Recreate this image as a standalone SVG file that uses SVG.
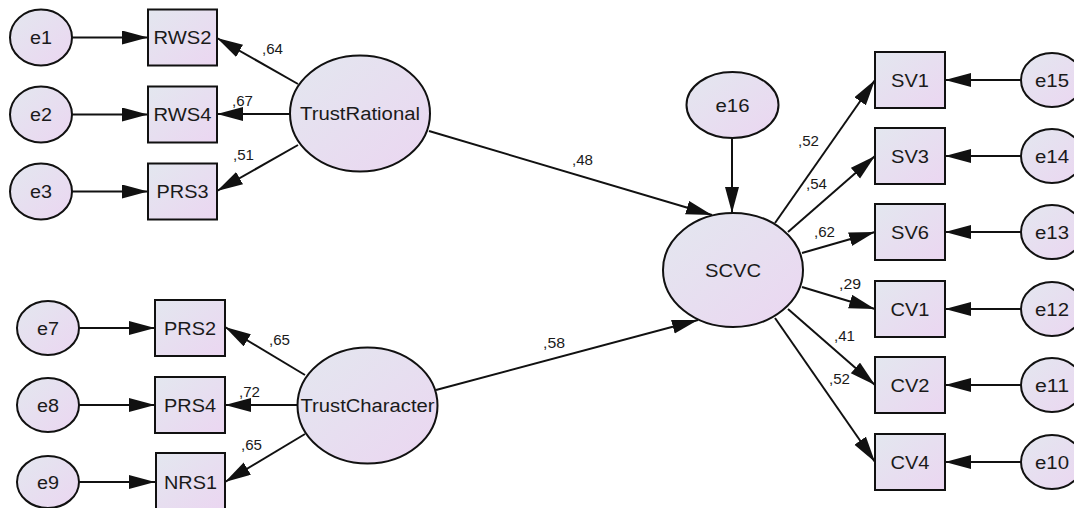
<svg xmlns="http://www.w3.org/2000/svg" width="1074" height="508" viewBox="0 0 1074 508">
  <style>
    .shape { fill: url(#nodeFill); stroke: #111; stroke-width: 2; }
    .lbl { font-family: "Liberation Sans", Arial, sans-serif; font-size: 18px; fill: #1a1a1a; text-anchor: middle; }
    .coef { font-family: "Liberation Sans", Arial, sans-serif; font-size: 14px; fill: #1a1a1a; }
    .edge { stroke: #111; stroke-width: 2; fill: none; marker-end: url(#head); }
  </style>
  <defs>
    <linearGradient id="nodeFill" x1="0" y1="0" x2="1" y2="1">
      <stop offset="0" stop-color="#e3e7ef"/>
      <stop offset="1" stop-color="#ebd6f1"/>
    </linearGradient>
    <marker id="head" markerUnits="userSpaceOnUse" markerWidth="27" markerHeight="15" refX="26" refY="7" orient="auto">
      <path d="M0,0 L26,7 L0,14 z" fill="#111"/>
    </marker>
  </defs>
  <rect width="1074" height="508" fill="#fff"/>

  <!-- connectors -->
  <g id="connectors">
    <!-- error terms into indicators, left side -->
    <line class="edge" x1="72" y1="37.5" x2="148" y2="37.5"/>
    <line class="edge" x1="72" y1="114.5" x2="148" y2="114.5"/>
    <line class="edge" x1="72" y1="191.5" x2="148" y2="191.5"/>
    <line class="edge" x1="79" y1="328" x2="155" y2="328"/>
    <line class="edge" x1="79" y1="405" x2="155" y2="405"/>
    <line class="edge" x1="79" y1="482" x2="155" y2="482"/>
    <!-- TrustRational loadings -->
    <line class="edge" x1="298" y1="84" x2="217" y2="38"/>
    <line class="edge" x1="290" y1="114" x2="217" y2="114"/>
    <line class="edge" x1="298" y1="145" x2="217" y2="191"/>
    <!-- TrustCharacter loadings -->
    <line class="edge" x1="305" y1="375" x2="225" y2="327"/>
    <line class="edge" x1="297" y1="405" x2="225" y2="405"/>
    <line class="edge" x1="305" y1="434" x2="225" y2="482"/>
    <!-- structural paths -->
    <line class="edge" x1="429" y1="131" x2="712" y2="215"/>
    <line class="edge" x1="436" y1="390" x2="698" y2="320"/>
    <line class="edge" x1="732" y1="138" x2="732" y2="213"/>
    <!-- SCVC loadings -->
    <line class="edge" x1="775" y1="223" x2="875" y2="80"/>
    <line class="edge" x1="788" y1="232" x2="875" y2="156"/>
    <line class="edge" x1="802" y1="253" x2="875" y2="232"/>
    <line class="edge" x1="802" y1="287" x2="875" y2="309"/>
    <line class="edge" x1="788" y1="309" x2="875" y2="385"/>
    <line class="edge" x1="775" y1="318" x2="875" y2="462"/>
    <!-- error terms into indicators, right side -->
    <line class="edge" x1="1021" y1="80" x2="945" y2="80"/>
    <line class="edge" x1="1021" y1="156" x2="945" y2="156"/>
    <line class="edge" x1="1021" y1="232" x2="945" y2="232"/>
    <line class="edge" x1="1021" y1="309" x2="945" y2="309"/>
    <line class="edge" x1="1021" y1="385" x2="945" y2="385"/>
    <line class="edge" x1="1021" y1="462" x2="945" y2="462"/>
  </g>

  <!-- path coefficients -->
  <g id="coefficients">
    <text class="coef" x="262" y="54" textLength="21" lengthAdjust="spacingAndGlyphs">,64</text>
    <text class="coef" x="232" y="106" textLength="21" lengthAdjust="spacingAndGlyphs">,67</text>
    <text class="coef" x="233" y="160" textLength="21" lengthAdjust="spacingAndGlyphs">,51</text>
    <text class="coef" x="269" y="345" textLength="21" lengthAdjust="spacingAndGlyphs">,65</text>
    <text class="coef" x="239" y="397" textLength="21" lengthAdjust="spacingAndGlyphs">,72</text>
    <text class="coef" x="241" y="450" textLength="21" lengthAdjust="spacingAndGlyphs">,65</text>
    <text class="coef" x="572" y="165" textLength="21" lengthAdjust="spacingAndGlyphs">,48</text>
    <text class="coef" x="543" y="348" textLength="22" lengthAdjust="spacingAndGlyphs">,58</text>
    <text class="coef" x="798" y="146" textLength="21" lengthAdjust="spacingAndGlyphs">,52</text>
    <text class="coef" x="806" y="189" textLength="21" lengthAdjust="spacingAndGlyphs">,54</text>
    <text class="coef" x="814" y="237" textLength="21" lengthAdjust="spacingAndGlyphs">,62</text>
    <text class="coef" x="839" y="289" textLength="22" lengthAdjust="spacingAndGlyphs">,29</text>
    <text class="coef" x="834" y="341" textLength="21" lengthAdjust="spacingAndGlyphs">,41</text>
    <text class="coef" x="829" y="384" textLength="21" lengthAdjust="spacingAndGlyphs">,52</text>
  </g>

  <!-- error terms, left -->
  <g id="e1"><ellipse class="shape" cx="41" cy="37.5" rx="31" ry="28"/><text class="lbl" x="41" y="44" textLength="22" lengthAdjust="spacingAndGlyphs">e1</text></g>
  <g id="e2"><ellipse class="shape" cx="41" cy="114.5" rx="31" ry="28"/><text class="lbl" x="41" y="121" textLength="22" lengthAdjust="spacingAndGlyphs">e2</text></g>
  <g id="e3"><ellipse class="shape" cx="41" cy="191.5" rx="31" ry="28"/><text class="lbl" x="41" y="198" textLength="22" lengthAdjust="spacingAndGlyphs">e3</text></g>
  <g id="e7"><ellipse class="shape" cx="48" cy="328" rx="31" ry="27"/><text class="lbl" x="48" y="334.5" textLength="22" lengthAdjust="spacingAndGlyphs">e7</text></g>
  <g id="e8"><ellipse class="shape" cx="48" cy="405" rx="31" ry="27"/><text class="lbl" x="48" y="411.5" textLength="22" lengthAdjust="spacingAndGlyphs">e8</text></g>
  <g id="e9"><ellipse class="shape" cx="48" cy="482" rx="31" ry="26"/><text class="lbl" x="48" y="488.5" textLength="22" lengthAdjust="spacingAndGlyphs">e9</text></g>

  <!-- observed indicators, left -->
  <g id="RWS2"><rect class="shape" x="148" y="9.5" width="69" height="56"/><text class="lbl" x="182.5" y="44" textLength="58" lengthAdjust="spacingAndGlyphs">RWS2</text></g>
  <g id="RWS4"><rect class="shape" x="148" y="86.5" width="69" height="56"/><text class="lbl" x="182.5" y="121" textLength="58" lengthAdjust="spacingAndGlyphs">RWS4</text></g>
  <g id="PRS3"><rect class="shape" x="148" y="163.5" width="69" height="56"/><text class="lbl" x="182.5" y="198" textLength="52" lengthAdjust="spacingAndGlyphs">PRS3</text></g>
  <g id="PRS2"><rect class="shape" x="155" y="300" width="70" height="56"/><text class="lbl" x="190" y="334.5" textLength="52" lengthAdjust="spacingAndGlyphs">PRS2</text></g>
  <g id="PRS4"><rect class="shape" x="155" y="377" width="70" height="56"/><text class="lbl" x="190" y="411.5" textLength="52" lengthAdjust="spacingAndGlyphs">PRS4</text></g>
  <g id="NRS1"><rect class="shape" x="156" y="453" width="69" height="56"/><text class="lbl" x="190.5" y="488.5" textLength="53" lengthAdjust="spacingAndGlyphs">NRS1</text></g>

  <!-- latent factors -->
  <g id="TrustRational"><ellipse class="shape" cx="360" cy="113.5" rx="70" ry="58"/><text class="lbl" x="360" y="120" textLength="120" lengthAdjust="spacingAndGlyphs">TrustRational</text></g>
  <g id="TrustCharacter"><ellipse class="shape" cx="367.5" cy="405.5" rx="70" ry="58"/><text class="lbl" x="367.5" y="412" textLength="134" lengthAdjust="spacingAndGlyphs">TrustCharacter</text></g>
  <g id="SCVC"><ellipse class="shape" cx="733" cy="270" rx="70" ry="57"/><text class="lbl" x="733" y="276.5" textLength="56" lengthAdjust="spacingAndGlyphs">SCVC</text></g>
  <g id="e16"><ellipse class="shape" cx="732.5" cy="105" rx="46" ry="33"/><text class="lbl" x="732.5" y="111.5" textLength="34" lengthAdjust="spacingAndGlyphs">e16</text></g>

  <!-- observed indicators, right -->
  <g id="SV1"><rect class="shape" x="875" y="52" width="70" height="56"/><text class="lbl" x="910" y="86.5" textLength="38" lengthAdjust="spacingAndGlyphs">SV1</text></g>
  <g id="SV3"><rect class="shape" x="875" y="128" width="70" height="56"/><text class="lbl" x="910" y="162.5" textLength="38" lengthAdjust="spacingAndGlyphs">SV3</text></g>
  <g id="SV6"><rect class="shape" x="875" y="204" width="70" height="56"/><text class="lbl" x="910" y="238.5" textLength="38" lengthAdjust="spacingAndGlyphs">SV6</text></g>
  <g id="CV1"><rect class="shape" x="875" y="281" width="70" height="56"/><text class="lbl" x="910" y="315.5" textLength="39" lengthAdjust="spacingAndGlyphs">CV1</text></g>
  <g id="CV2"><rect class="shape" x="875" y="357" width="70" height="56"/><text class="lbl" x="910" y="391.5" textLength="39" lengthAdjust="spacingAndGlyphs">CV2</text></g>
  <g id="CV4"><rect class="shape" x="875" y="434" width="70" height="56"/><text class="lbl" x="910" y="468.5" textLength="39" lengthAdjust="spacingAndGlyphs">CV4</text></g>

  <!-- error terms, right -->
  <g id="e15"><ellipse class="shape" cx="1052" cy="80" rx="31" ry="27"/><text class="lbl" x="1052" y="86.5" textLength="34" lengthAdjust="spacingAndGlyphs">e15</text></g>
  <g id="e14"><ellipse class="shape" cx="1052" cy="156" rx="31" ry="27"/><text class="lbl" x="1052" y="162.5" textLength="34" lengthAdjust="spacingAndGlyphs">e14</text></g>
  <g id="e13"><ellipse class="shape" cx="1052" cy="232" rx="31" ry="27"/><text class="lbl" x="1052" y="238.5" textLength="34" lengthAdjust="spacingAndGlyphs">e13</text></g>
  <g id="e12"><ellipse class="shape" cx="1052" cy="309" rx="31" ry="27"/><text class="lbl" x="1052" y="315.5" textLength="34" lengthAdjust="spacingAndGlyphs">e12</text></g>
  <g id="e11"><ellipse class="shape" cx="1052" cy="385" rx="31" ry="27"/><text class="lbl" x="1052" y="391.5" textLength="34" lengthAdjust="spacingAndGlyphs">e11</text></g>
  <g id="e10"><ellipse class="shape" cx="1052" cy="462" rx="31" ry="27"/><text class="lbl" x="1052" y="468.5" textLength="34" lengthAdjust="spacingAndGlyphs">e10</text></g>
</svg>
